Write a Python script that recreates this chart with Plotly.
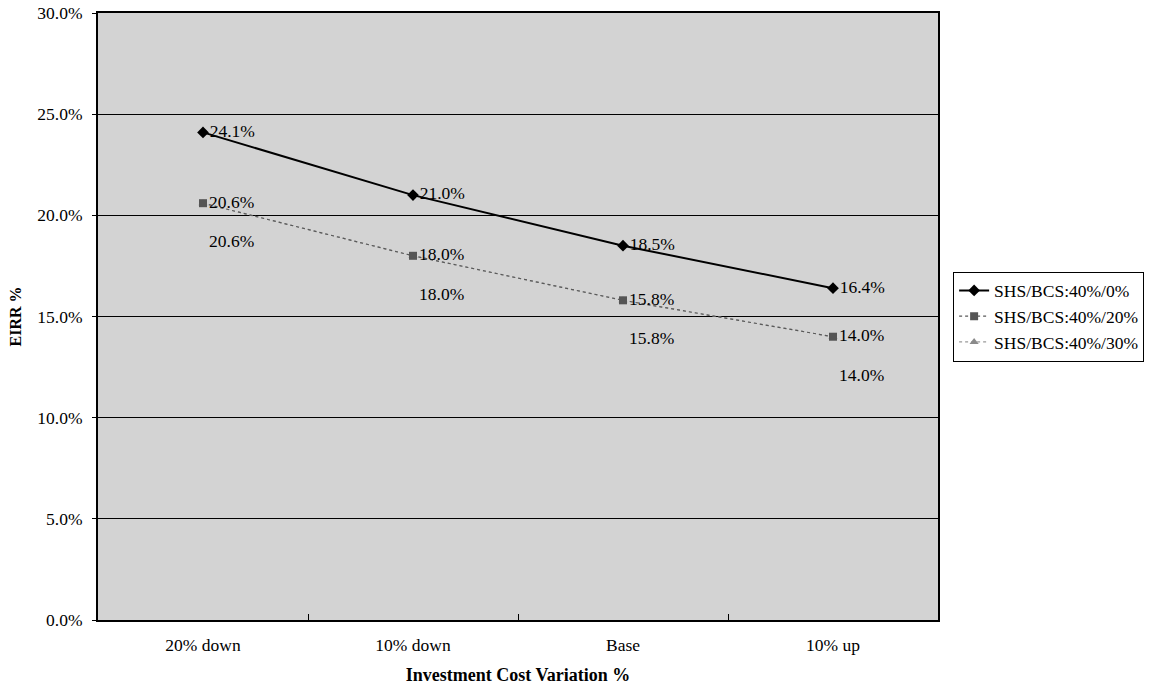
import plotly.graph_objects as go

# Investment cost scenarios and EIRR results (%)
categories = ["20% down", "10% down", "Base", "10% up"]
eirr_40_0 = [24.1, 21.0, 18.5, 16.4]
eirr_40_20 = [20.6, 18.0, 15.8, 14.0]
eirr_40_30 = [20.6, 18.0, 15.8, 14.0]
series_names = ["SHS/BCS:40%/0%", "SHS/BCS:40%/20%", "SHS/BCS:40%/30%"]
y_ticks = [0, 5, 10, 15, 20, 25, 30]

FONT = "Times New Roman, Liberation Serif, serif"
fsize = 17.5

fig = go.Figure()

# Series 3 drawn first so that the other two sit on top of it
fig.add_trace(go.Scatter(
    x=categories, y=eirr_40_30, name=series_names[2], mode="lines+markers",
    line=dict(color="#9a9a9a", width=1.2, dash="dot"),
    marker=dict(symbol="triangle-up", size=8, color="#8a8a8a"),
    legendrank=3,
))
fig.add_trace(go.Scatter(
    x=categories, y=eirr_40_20, name=series_names[1], mode="lines+markers+text",
    line=dict(color="#5a5a5a", width=1.2, dash="dot"),
    marker=dict(symbol="square", size=8, color="#555555"),
    text=[f"{v:.1f}%" for v in eirr_40_20], textposition="middle right",
    textfont=dict(family=FONT, size=fsize, color="black"),
    legendrank=2,
))
fig.add_trace(go.Scatter(
    x=categories, y=eirr_40_0, name=series_names[0], mode="lines+markers+text",
    line=dict(color="black", width=2),
    marker=dict(symbol="diamond", size=9, color="black"),
    text=[f"{v:.1f}%" for v in eirr_40_0], textposition="middle right",
    textfont=dict(family=FONT, size=fsize, color="black"),
    legendrank=1,
))

# Labels for the third series, set below-right of their points
for c, v in zip(categories, eirr_40_30):
    fig.add_annotation(
        x=c, y=v, text=f"{v:.1f}%", showarrow=False,
        xshift=28, yshift=-38,
        font=dict(family=FONT, size=fsize, color="black"),
    )

fig.update_layout(
    width=1154, height=692,
    margin=dict(l=98, r=216, t=13, b=72, autoexpand=False),
    paper_bgcolor="white",
    plot_bgcolor="#d3d3d3",
    font=dict(family=FONT, size=fsize, color="black"),
    showlegend=True,
    legend=dict(
        x=1.018, xanchor="left", y=0.5, yanchor="middle",
        bgcolor="white", bordercolor="black", borderwidth=1,
        font=dict(family=FONT, size=fsize, color="black"),
        tracegroupgap=0, itemwidth=30,
    ),
    xaxis=dict(
        type="category", categoryarray=categories, range=[-0.5, 3.5],
        tickson="boundaries", ticks="inside", ticklen=6, tickcolor="black",
        showgrid=False, showline=True, linecolor="black", linewidth=2,
        mirror=True, zeroline=False, automargin=False,
        ticklabelstandoff=8,
        title=dict(text="<b>Investment Cost Variation %</b>", standoff=14,
                   font=dict(family=FONT, size=18)),
        tickfont=dict(family=FONT, size=fsize),
    ),
    yaxis=dict(
        range=[0, 30], tickvals=y_ticks,
        ticktext=[f"{v:.1f}%" for v in y_ticks],
        ticks="outside", ticklen=4, tickcolor="black",
        showgrid=True, gridcolor="black", gridwidth=1,
        showline=True, linecolor="black", linewidth=2, mirror=True,
        zeroline=False, automargin=False, ticklabelstandoff=6,
        title=dict(text="<b>EIRR %</b>", standoff=12,
                   font=dict(family=FONT, size=16)),
        tickfont=dict(family=FONT, size=fsize),
    ),
)

fig.write_html("out.html")
